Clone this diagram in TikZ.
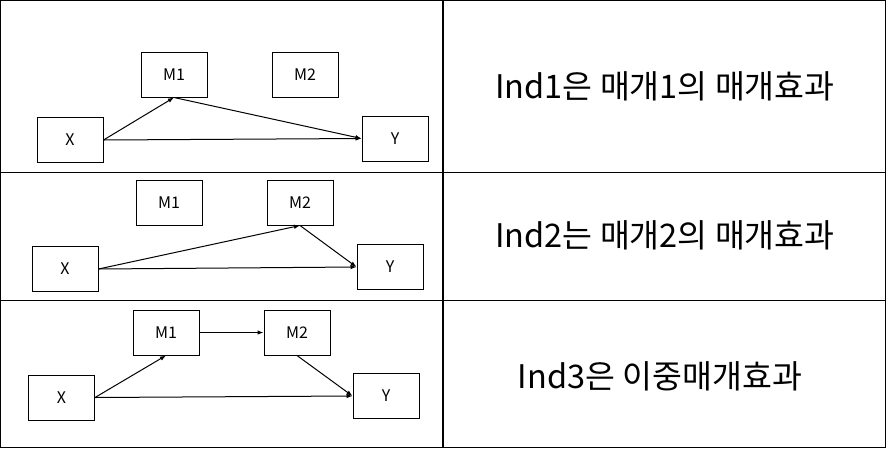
\documentclass[tikz,border=0pt]{standalone}
\usepackage{fontspec}
\setmainfont{Noto Sans CJK KR}
\usepackage{tikz}
\usetikzlibrary{arrows.meta, positioning}

\begin{document}
\begin{tikzpicture}[
    x=1pt, y=-1pt,
    var/.style={draw, line width=1pt, minimum width=66pt, minimum height=45pt, inner sep=0pt, font=\fontsize{16}{18}\selectfont},
    path/.style={line width=1pt, -{Latex[length=6pt, width=4.5pt]}},
    rule/.style={line width=1.2pt},
    note/.style={font=\fontsize{32.5}{36}\selectfont}
]
\useasboundingbox (0,0) rectangle (886,448);

% Table frame
\draw[rule] (0.6,0.6) rectangle (885.4,447.4);
\draw[rule] (443,0.6) -- (443,447.4);
\draw[rule] (0.6,172.5) -- (885.4,172.5);
\draw[rule] (0.6,300.5) -- (885.4,300.5);

% Row 1: indirect effect through M1
\node[var] (x1) at (70,140) {X};
\node[var] (ma1) at (174,74.5) {M1};
\node[var] (mb1) at (305,74.5) {M2};
\node[var] (y1) at (395,138.5) {Y};
\draw[path] (x1.east) -- (ma1.south);
\draw[path] (x1.east) -- (y1.west);
\draw[path] (ma1.south) -- (y1.west);
\node[note] (t1) at (665,86) {Ind1은 매개1의 매개효과};

% Row 2: indirect effect through M2
\node[var] (ma2) at (169,202.5) {M1};
\node[var] (mb2) at (300,202.5) {M2};
\node[var] (x2) at (65,269) {X};
\node[var] (y2) at (390,267) {Y};
\draw[path] (x2.east) -- (mb2.south);
\draw[path] (x2.east) -- (y2.west);
\draw[path] (mb2.south) -- (y2.west);
\node[note] (t2) at (665,235) {Ind2는 매개2의 매개효과};

% Row 3: serial mediation
\node[var] (ma3) at (166,332.5) {M1};
\node[var] (mb3) at (297,332.5) {M2};
\node[var] (x3) at (61.5,397.5) {X};
\node[var] (y3) at (386,396) {Y};
\draw[path] (x3.east) -- (ma3.south);
\draw[path] (ma3.east) -- (mb3.west);
\draw[path] (mb3.south) -- (y3.west);
\draw[path] (x3.east) -- (y3.west);
\node[note] (t3) at (660,376) {Ind3은 이중매개효과};
\end{tikzpicture}
\end{document}
